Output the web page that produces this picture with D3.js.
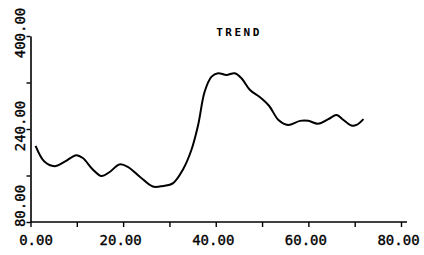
<html>
<head>
  <title>TREND</title>
  <script src="https://cdn.jsdelivr.net/npm/d3@7"></script>
  <style>
    body { margin: 0; background: #fff; }
    text { font-family: "DejaVu Sans Mono", monospace; fill: #000; stroke: #000; stroke-width: 0.35px; }
  </style>
</head>
<body>
  <script>
    // Data
    const trendX = [1.1, 3.0, 5.2, 7.4, 9.9, 11.3, 13.5, 15.3, 17.1, 19.2, 21.0, 23.6,
      26.4, 28.6, 30.8, 32.9, 34.7, 36.2, 37.6, 39.1, 40.5, 42.3, 44.1, 45.6, 47.4,
      49.5, 51.5, 53.6, 55.6, 58.2, 60.0, 62.1, 64.3, 66.1, 67.5, 69.3, 70.4, 71.9];
    const trendY = [211, 184, 176, 184, 195, 190, 170, 159, 166, 179, 175, 158,
      141, 142, 147, 170, 203, 247, 304, 330, 336, 333, 336, 327, 307,
      295, 280, 255, 247, 254, 254, 249, 257, 264, 256, 246, 247, 257];
    const xTicks = [0, 10, 20, 30, 40, 50, 60, 70, 80];
    const yTicks = [80, 160, 240, 320, 400];
    const xLabels = [0, 20, 40, 60, 80];
    const yLabels = [80, 240, 400];
    const title = "TREND";

    const w = 424;
    const h = 255;

    const x = d3.scaleLinear().domain([0, 80]).range([30.5, 401]);
    const y = d3.scaleLinear().domain([80, 400]).range([222, 36]);
    const fmt = d3.format(".2f");

    const svg = d3.select("body").append("svg")
      .attr("width", w)
      .attr("height", h);

    // x-akse
    const xAxis = d3.axisBottom(x)
      .tickValues(xTicks)
      .tickSize(5)
      .tickSizeOuter(0)
      .tickFormat(d => xLabels.includes(d) ? fmt(d) : "");
    const gx = svg.append("g")
      .attr("transform", "translate(0," + y(80) + ")")
      .call(xAxis);
    gx.select(".domain").remove();
    gx.append("line")
      .attr("x1", x(0)).attr("x2", x(80) + 6)
      .attr("stroke", "#000").attr("stroke-width", 1.6);
    gx.selectAll(".tick line").attr("stroke-width", 1.4);
    gx.selectAll(".tick text")
      .attr("y", 23)
      .attr("dy", 0)
      .attr("dx", d => d === 0 ? 5 : -3)
      .style("font-size", "14px");

    // y-akse
    const yAxis = d3.axisLeft(y)
      .tickValues(yTicks)
      .tickSize(4)
      .tickSizeOuter(0)
      .tickFormat("");
    const gy = svg.append("g")
      .attr("transform", "translate(" + x(0) + ",0)")
      .call(yAxis);
    gy.select(".domain").attr("stroke-width", 1.6);
    gy.selectAll(".tick line").attr("stroke-width", 1.4);

    svg.append("g").selectAll("text")
      .data(yLabels)
      .enter()
      .append("text")
      .attr("transform", d => "translate(25," + (y(d) - (d === 80 ? 16 : 3)) + ") rotate(-90)")
      .attr("text-anchor", "middle")
      .style("font-size", "14px")
      .text(d => fmt(d));

    // Titel
    svg.append("text")
      .attr("x", 239)
      .attr("y", 36)
      .attr("text-anchor", "middle")
      .style("font-size", "11px")
      .style("font-weight", "bold")
      .style("stroke-width", "0")
      .style("letter-spacing", "2.5px")
      .text(title);

    // Kurven
    const line = d3.line()
      .x((d, i) => x(trendX[i]))
      .y(d => y(d))
      .curve(d3.curveCatmullRom);
    svg.append("path")
      .datum(trendY)
      .attr("d", line)
      .attr("fill", "none")
      .attr("stroke", "#000")
      .attr("stroke-width", 2);
  </script>
</body>
</html>
